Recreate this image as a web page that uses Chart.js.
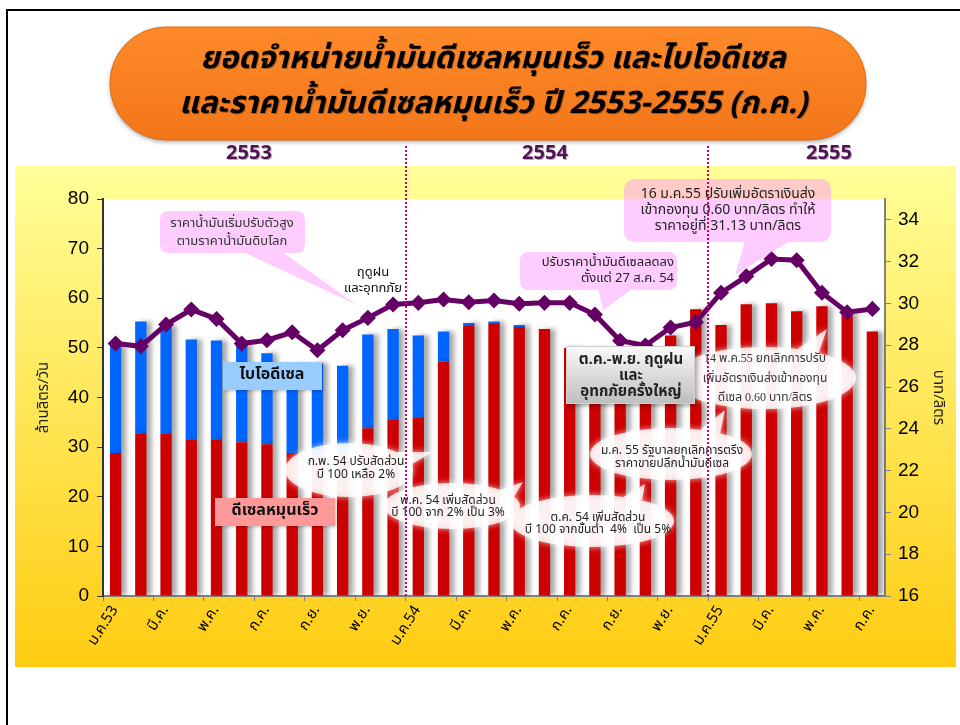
<!DOCTYPE html>
<html>
<head>
<meta charset="utf-8">
<script src="https://cdn.jsdelivr.net/npm/chart.js@4.4.1/dist/chart.umd.min.js"></script>
<style>
  html, body { margin: 0; padding: 0; background: #fff; }
  #wrap { width: 960px; height: 725px; }
</style>
</head>
<body>
<div id="wrap"><canvas id="chart" width="960" height="725"></canvas></div>
<script>
// เดือน ม.ค.53 - ก.ค.55
const monthLabels = [
  'ม.ค.53', 'ก.พ.', 'มี.ค.', 'เม.ย.', 'พ.ค.', 'มิ.ย.', 'ก.ค.', 'ส.ค.', 'ก.ย.', 'ต.ค.', 'พ.ย.', 'ธ.ค.',
  'ม.ค.54', 'ก.พ.', 'มี.ค.', 'เม.ย.', 'พ.ค.', 'มิ.ย.', 'ก.ค.', 'ส.ค.', 'ก.ย.', 'ต.ค.', 'พ.ย.', 'ธ.ค.',
  'ม.ค.55', 'ก.พ.', 'มี.ค.', 'เม.ย.', 'พ.ค.', 'มิ.ย.', 'ก.ค.'
];
const yearLabels = ['2553', '2554', '2555'];

// ยอดจำหน่าย (ล้านลิตร/วัน)
const dieselSales = [
  28.8, 32.8, 32.8, 31.6, 31.6, 31.0, 30.6, 28.8, 28.0, 28.5, 33.8, 35.6,
  36.0, 47.2, 54.4, 54.8, 54.2, 53.8, 50.0, 49.5, 47.5, 46.5, 52.5, 57.8,
  54.6, 58.8, 59.0, 57.4, 58.4, 57.2, 53.3
];
const bioSales = [
  21.8, 22.5, 21.8, 20.1, 19.9, 19.8, 18.3, 17.7, 18.9, 17.9, 18.9, 18.2,
  16.5, 6.1, 0.6, 0.5, 0.4, 0, 0, 0, 0, 0, 0, 0,
  0, 0, 0, 0, 0, 0, 0
];
// ราคาน้ำมันดีเซลหมุนเร็ว (บาท/ลิตร)
const dieselPrice = [
  28.08, 27.95, 28.99, 29.71, 29.26, 28.08, 28.24, 28.62, 27.76, 28.72, 29.31, 29.95,
  30.03, 30.19, 30.06, 30.14, 29.99, 30.03, 30.03, 29.47, 28.22, 27.99, 28.85, 29.10,
  30.51, 31.30, 32.13, 32.07, 30.51, 29.58, 29.74
];

const FONT = '"Noto Sans Thai", Tahoma, "DejaVu Sans", sans-serif';
const NUMFONT = '"Liberation Sans", Arial, sans-serif';

// วาดกรอบ + triangle ชี้ (รวม path เดียว)
function addTri(ctx, pts) {
  const area = (pts[1][0]-pts[0][0])*(pts[2][1]-pts[0][1]) - (pts[2][0]-pts[0][0])*(pts[1][1]-pts[0][1]);
  const p = area < 0 ? [pts[0], pts[2], pts[1]] : pts;
  ctx.moveTo(p[0][0], p[0][1]);
  ctx.lineTo(p[1][0], p[1][1]);
  ctx.lineTo(p[2][0], p[2][1]);
  ctx.closePath();
}

function boxBubble(ctx, x, y, w, h, r, fill, tri) {
  ctx.save();
  ctx.beginPath();
  ctx.roundRect(x, y, w, h, r);
  if (tri) addTri(ctx, tri);
  ctx.fillStyle = fill;
  ctx.fill('nonzero');
  ctx.restore();
}

function ellipseBubble(ctx, cx, cy, rx, ry, tri) {
  ctx.save();
  ctx.beginPath();
  ctx.ellipse(cx, cy, rx, ry, 0, 0, Math.PI * 2, false);
  if (tri) addTri(ctx, tri);
  ctx.shadowColor = 'rgba(255,255,255,0.9)';
  ctx.shadowBlur = 6;
  ctx.fillStyle = 'rgba(255,255,255,0.8)';
  ctx.fill('nonzero');
  ctx.restore();
}

function lines(ctx, arr, x, y0, dy, font, color, align) {
  ctx.save();
  ctx.font = font;
  ctx.fillStyle = color;
  ctx.textAlign = align || 'center';
  ctx.textBaseline = 'middle';
  arr.forEach((t, i) => ctx.fillText(t, x, y0 + i * dy));
  ctx.restore();
}

const backdrop = {
  id: 'backdrop',
  beforeDraw(chart) {
    const ctx = chart.ctx;
    const a = chart.chartArea;
    ctx.save();
    ctx.fillStyle = '#fff';
    ctx.fillRect(0, 0, 960, 725);
    // กรอบ
    ctx.strokeStyle = '#000';
    ctx.lineWidth = 2;
    ctx.beginPath();
    ctx.moveTo(7, 725); ctx.lineTo(7, 10); ctx.lineTo(960, 10);
    ctx.stroke();

    // พื้นเหลือง
    const g = ctx.createLinearGradient(0, 166, 0, 667);
    g.addColorStop(0, '#FFFF99');
    g.addColorStop(1, '#FFCC11');
    ctx.fillStyle = g;
    ctx.fillRect(15, 166, 941, 501);

    // plot area
    ctx.fillStyle = '#fff';
    ctx.fillRect(a.left, a.top, a.right - a.left, a.bottom - a.top);

    // หัวเรื่อง
    ctx.save();
    ctx.shadowColor = 'rgba(0,0,0,0.35)';
    ctx.shadowBlur = 4;
    ctx.shadowOffsetY = 2;
    const og = ctx.createLinearGradient(0, 27, 0, 140);
    og.addColorStop(0, '#FF8A2A');
    og.addColorStop(1, '#F27619');
    ctx.fillStyle = og;
    ctx.beginPath();
    ctx.roundRect(110, 27, 756, 113, 56);
    ctx.fill();
    ctx.restore();
    ctx.strokeStyle = '#E06A10';
    ctx.lineWidth = 1;
    ctx.beginPath();
    ctx.roundRect(110, 27, 756, 113, 56);
    ctx.stroke();

    ctx.save();
    ctx.shadowColor = 'rgba(0,0,0,0.3)';
    ctx.shadowOffsetX = 1;
    ctx.shadowOffsetY = 1;
    lines(ctx, ['ยอดจำหน่ายน้ำมันดีเซลหมุนเร็ว และไบโอดีเซล',
                'และราคาน้ำมันดีเซลหมุนเร็ว ปี 2553-2555 (ก.ค.)'],
          493, 62, 45, 'italic bold 31px ' + FONT, '#000');
    // ปี
    const yx = [249, 545, 829];
    yearLabels.forEach((t, i) => lines(ctx, [t], yx[i], 155, 0, 'bold 20px ' + FONT, '#551155'));
    ctx.restore();
    ctx.restore();
  },
  beforeDatasetDraw(chart, args) {
    if (args.meta.type !== 'bar') return;
    const ctx = chart.ctx;
    ctx.save();
    ctx.shadowColor = 'rgba(0,0,0,0.35)';
    ctx.shadowBlur = 5;
    ctx.shadowOffsetX = 5;
  },
  afterDatasetDraw(chart, args) {
    if (args.meta.type !== 'bar') return;
    chart.ctx.restore();
  }
};

const notes = {
  id: 'notes',
  afterDraw(chart) {
    const ctx = chart.ctx;
    const pink = 'rgba(255,153,255,0.5)';
    const small = '13px ' + FONT;

    // ราคาน้ำมันเริ่มปรับตัวสูง
    boxBubble(ctx, 160, 211, 145, 42, 8, pink, [[243, 252], [282, 252], [357, 305]]);
    lines(ctx, ['ราคาน้ำมันเริ่มปรับตัวสูง', 'ตามราคาน้ำมันดิบโลก'], 232, 224, 18, small, '#333');
    lines(ctx, ['ฤดูฝน', 'และอุทกภัย'], 373, 273, 16, small, '#111');

    // ปรับราคาลดลง
    boxBubble(ctx, 520, 252, 157, 38, 8, pink, [[598, 289], [632, 289], [603, 310]]);
    lines(ctx, ['ปรับราคาน้ำมันดีเซลลดลง', 'ตั้งแต่ 27 ส.ค. 54'], 674, 263, 16, small, '#222', 'right');

    // 16 ม.ค.55
    boxBubble(ctx, 624, 179, 207, 63, 10, pink, [[745, 241], [790, 241], [735, 275]]);
    lines(ctx, ['16 ม.ค.55 ปรับเพิ่มอัตราเงินส่ง', 'เข้ากองทุน 0.60 บาท/ลิตร ทำให้', 'ราคาอยู่ที่ 31.13 บาท/ลิตร'],
          728, 195, 16, '14px ' + FONT, '#222');

    // ellipses
    ellipseBubble(ctx, 349, 470, 64, 27, [[392, 452], [405, 468], [433, 452]]);
    lines(ctx, ['ก.พ. 54 ปรับสัดส่วน', 'บี 100 เหลือ 2%'], 356, 463, 13, '12px ' + FONT, '#222');

    ellipseBubble(ctx, 452, 506, 68, 23, [[500, 490], [512, 500], [523, 482]]);
    lines(ctx, ['พ.ค. 54 เพิ่มสัดส่วน', 'บี 100 จาก 2% เป็น 3%'], 448, 502, 12, '12px ' + FONT, '#222');

    ellipseBubble(ctx, 592, 521, 82, 26, [[622, 498], [642, 500], [645, 484]]);
    lines(ctx, ['ต.ค. 54 เพิ่มสัดส่วน', 'บี 100 จากขั้นต่ำ  4%  เป็น 5%'], 598, 519, 12, '12px ' + FONT, '#222');

    ellipseBubble(ctx, 671, 454, 81, 26, [[698, 432], [720, 434], [725, 410]]);
    lines(ctx, ['ม.ค. 55 รัฐบาลยกเลิกการตรึง', 'ราคาขายปลีกน้ำมันดีเซล'], 672, 452, 13, '12px ' + FONT, '#222');

    ellipseBubble(ctx, 764, 378, 92, 31, [[796, 350], [818, 355], [827, 329]]);
    lines(ctx, ['14 พ.ค.55 ยกเลิกการปรับ', 'เพิ่มอัตราเงินส่งเข้ากองทุน', 'ดีเซล 0.60 บาท/ลิตร'],
          765, 359, 19.5, '12px "Liberation Serif", "Times New Roman", ' + FONT, '#333');

    // กล่องเทา ต.ค.-พ.ย.
    ctx.save();
    ctx.shadowColor = 'rgba(0,0,0,0.35)';
    ctx.shadowBlur = 4;
    ctx.shadowOffsetX = 2;
    ctx.shadowOffsetY = 2;
    const gg = ctx.createLinearGradient(0, 346, 0, 404);
    gg.addColorStop(0, '#FAFAFA');
    gg.addColorStop(1, '#BDBDBD');
    ctx.fillStyle = gg;
    ctx.fillRect(566, 346, 129, 58);
    ctx.restore();
    ctx.strokeStyle = '#D0D0D0';
    ctx.lineWidth = 1;
    ctx.strokeRect(566.5, 346.5, 128, 57);
    lines(ctx, ['ต.ค.-พ.ย. ฤดูฝน', 'และ', 'อุทกภัยครั้งใหญ่'], 631, 361, 16, 'bold 15px ' + FONT, '#222');

    // ป้ายชื่อชุดข้อมูล
    ctx.save();
    ctx.shadowColor = 'rgba(0,0,0,0.25)';
    ctx.shadowBlur = 3;
    ctx.shadowOffsetX = 1;
    ctx.shadowOffsetY = 1;
    ctx.fillStyle = '#99CCFF';
    ctx.fillRect(223, 362, 99, 28);
    ctx.fillStyle = '#FF9999';
    ctx.fillRect(215, 498, 120, 28);
    ctx.restore();
    lines(ctx, ['ไบโอดีเซล'], 272, 376, 0, 'bold 16px ' + FONT, '#111');
    lines(ctx, ['ดีเซลหมุนเร็ว'], 275, 512, 0, 'bold 16px ' + FONT, '#111');

    // เส้นแบ่งปี (ประ)
    const xs = chart.scales.x;
    ctx.save();
    ctx.strokeStyle = '#CC0066';
    ctx.lineWidth = 2;
    ctx.setLineDash([2, 2]);
    [12, 24].forEach(i => {
      const x = Math.round((xs.getPixelForValue(i - 1) + xs.getPixelForValue(i)) / 2);
      ctx.beginPath();
      ctx.moveTo(x, 146);
      ctx.lineTo(x, chart.chartArea.bottom);
      ctx.stroke();
    });
    ctx.restore();
  }
};

new Chart(document.getElementById('chart'), {
  data: {
    labels: monthLabels,
    datasets: [
      {
        type: 'line',
        label: 'ราคาน้ำมันดีเซลหมุนเร็ว',
        data: dieselPrice,
        yAxisID: 'y1',
        order: 0,
        borderColor: '#660066',
        backgroundColor: '#660066',
        borderWidth: 5,
        pointStyle: 'rectRot',
        pointRadius: 4.5,
        tension: 0
      },
      {
        type: 'bar',
        label: 'ดีเซลหมุนเร็ว',
        data: dieselSales,
        yAxisID: 'y',
        order: 1,
        backgroundColor: '#CC0000',
        categoryPercentage: 0.45,
        barPercentage: 1
      },
      {
        type: 'bar',
        label: 'ไบโอดีเซล',
        data: bioSales,
        yAxisID: 'y',
        order: 2,
        backgroundColor: '#0066FF',
        categoryPercentage: 0.45,
        barPercentage: 1
      }
    ]
  },
  options: {
    responsive: false,
    animation: false,
    layout: { padding: { top: 199, left: 0, right: 0, bottom: 0 } },
    plugins: { legend: { display: false }, tooltip: { enabled: false } },
    scales: {
      x: {
        stacked: true,
        offset: true,
        grid: {
          offset: true,
          drawOnChartArea: false,
          tickLength: 5,
          color: c => (c.index % 2 === 0 ? '#808080' : 'rgba(0,0,0,0)')
        },
        border: { color: '#808080', width: 2 },
        ticks: {
          autoSkip: false,
          minRotation: 58,
          maxRotation: 58,
          padding: 2,
          color: '#000',
          font: { family: FONT, size: 15 },
          callback: (v, i) => (i % 2 === 0 ? monthLabels[i] : '')
        },
        afterFit: s => { s.height = 129; }
      },
      y: {
        stacked: true,
        position: 'left',
        min: 0,
        max: 80,
        ticks: { stepSize: 10, color: '#000', padding: 8, font: { family: NUMFONT, size: 19 } },
        grid: { drawOnChartArea: false, tickLength: 6, color: '#333' },
        border: { color: '#333', width: 2 },
        title: {
          display: true,
          text: 'ล้านลิตร/วัน',
          color: '#222',
          font: { family: FONT, size: 15 },
          padding: { top: 36 }
        },
        afterFit: s => { s.width = 103; }
      },
      y1: {
        position: 'right',
        min: 16,
        max: 35,
        ticks: { stepSize: 2, includeBounds: false, color: '#000', padding: 7, font: { family: NUMFONT, size: 19 } },
        grid: { drawOnChartArea: false, tickLength: 6, color: '#808080' },
        border: { color: '#808080', width: 2 },
        title: {
          display: true,
          text: 'บาท/ลิตร',
          color: '#222',
          font: { family: FONT, size: 15 },
          padding: { top: 14 }
        },
        afterFit: s => { s.width = 75; }
      }
    }
  },
  plugins: [backdrop, notes]
});
</script>
</body>
</html>
